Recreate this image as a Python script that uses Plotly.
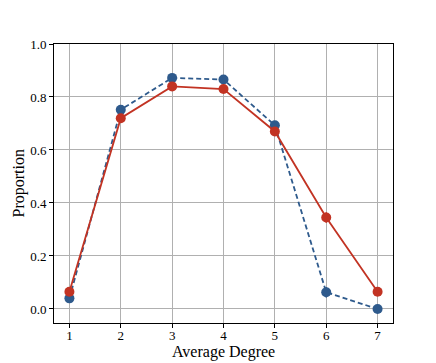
import plotly.graph_objects as go

degree = [1, 2, 3, 4, 5, 6, 7]
blue_vals = [0.04, 0.752, 0.872, 0.866, 0.693, 0.063, 0.0]
red_vals = [0.065, 0.72, 0.84, 0.83, 0.67, 0.345, 0.065]
blue_err = [0.01, 0.01, 0.005, 0.005, 0.01, 0.02, 0.005]
red_err = [0.015, 0.01, 0.005, 0.005, 0.01, 0.02, 0.005]
y_ticks = [0.0, 0.2, 0.4, 0.6, 0.8, 1.0]

BLUE = "#2e5a8c"
RED = "#c23323"
title_font = dict(family="Liberation Serif", size=16, color="black")

fig = go.Figure()
fig.add_trace(go.Scatter(
    x=degree, y=blue_vals, mode="lines+markers",
    line=dict(color=BLUE, width=1.8, dash="5px,3px"),
    marker=dict(color=BLUE, size=10),
    error_y=dict(type="data", array=blue_err, color=BLUE, thickness=1.5, width=0),
))
fig.add_trace(go.Scatter(
    x=degree, y=red_vals, mode="lines+markers",
    line=dict(color=RED, width=1.8),
    marker=dict(color=RED, size=10),
    error_y=dict(type="data", array=red_err, color=RED, thickness=1.5, width=0),
))

axis_common = dict(
    showgrid=True, gridcolor="#b0b0b0", gridwidth=1,
    showline=True, linecolor="black", linewidth=1, mirror=True,
    ticks="outside", ticklen=4, tickcolor="black",
    zeroline=False, automargin=False,
    tickfont=dict(family="Liberation Serif", size=13, color="black"),
)

fig.update_xaxes(range=[0.7, 7.3], tickvals=degree, ticklabelstandoff=-4, **axis_common)
fig.update_yaxes(range=[-0.053, 1.0], tickvals=y_ticks, tickformat=".1f", **axis_common)

# axis titles placed as annotations for exact positioning
fig.add_annotation(text="Average Degree", xref="paper", yref="paper", x=0.5, y=0,
                   yanchor="middle", yshift=-29, showarrow=False, font=title_font)
fig.add_annotation(text="Proportion", xref="paper", yref="paper", x=0, y=0.5,
                   xanchor="center", xshift=-36, textangle=-90, showarrow=False, font=title_font)

fig.update_layout(
    width=436, height=363,
    margin=dict(l=54, r=43, t=44, b=40),
    plot_bgcolor="white", paper_bgcolor="white",
    showlegend=False,
)

fig.write_html("out.html", config={"displayModeBar": False},
               post_script="document.body.style.margin='0';")
